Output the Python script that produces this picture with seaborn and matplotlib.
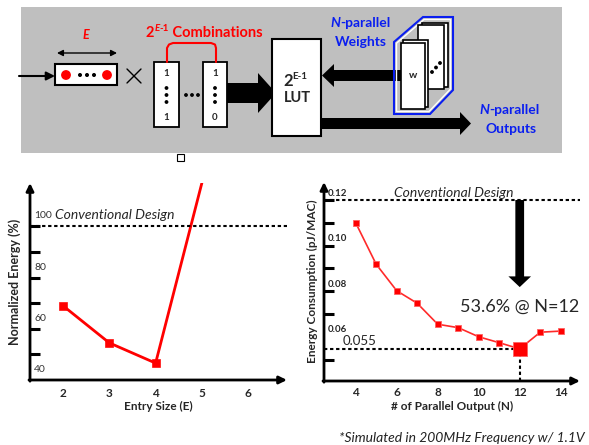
import matplotlib
matplotlib.use("Agg")
import matplotlib.pyplot as plt
from matplotlib.patches import Rectangle, Polygon, Circle
import seaborn as sns

sns.set_style("white")
plt.rcParams['font.family'] = ['Lato', 'DejaVu Sans']

# ---- data ----
entry_size = [2, 3, 4, 5]
norm_energy = [69.0, 54.5, 46.6, 117.0]
entry_ticks = [2, 3, 4, 5, 6]
norm_ticks = [50, 60, 70, 80, 90, 100]
norm_labels = [100, 80, 60, 40]
conv_norm = 100

parallel_n = [4, 5, 6, 7, 8, 9, 10, 11, 12, 13, 14]
energy_pj = [0.110, 0.0918, 0.0802, 0.0747, 0.0655, 0.0640, 0.0600, 0.0574, 0.0547, 0.0620, 0.0625]
n_ticks = [4, 6, 8, 10, 12, 14]
pj_ticks = [0.05, 0.07, 0.08, 0.09, 0.10, 0.11, 0.12]
pj_labels = ['0.12', '0.10', '0.08', '0.06']
pj_label_vals = [0.12, 0.10, 0.08, 0.06]
conv_pj = 0.12
best_n = 12
best_pj = energy_pj[parallel_n.index(best_n)]
best_label = '0.055'
saving_text = '53.6% @ N=12'

RED = '#ff0000'
BLUE = '#0a1ef0'
W, H = 589, 445

fig = plt.figure(figsize=(W / 100, H / 100), dpi=100)


def px_axes(x0, y0, x1, y1):
    return fig.add_axes([x0 / W, 1 - y1 / H, (x1 - x0) / W, (y1 - y0) / H])


# ---- overlay for the block diagram (pixel coords, y down) ----
ov = fig.add_axes([0, 0, 1, 1])
ov.set_xlim(0, W)
ov.set_ylim(H, 0)
ov.axis('off')


def chain(prev, s, dy=0, **kw):
    return ov.annotate(s, xy=(1, 0), xycoords=prev, xytext=(0, dy),
                       textcoords='offset points', ha='left', va='bottom', **kw)


ov.add_patch(Rectangle((21, 7), 541, 146, fc='#bfbfbf', ec='none'))

# input vector
ov.annotate('', xy=(55, 76), xytext=(19, 76),
            arrowprops=dict(arrowstyle='-|>,head_length=0.5,head_width=0.25', lw=1.5, color='k',
                            shrinkA=0, shrinkB=0))
ov.add_patch(Rectangle((55, 64), 62, 21, fc='white', ec='black', lw=1.5))
for cx in (66, 107):
    ov.add_patch(Circle((cx, 75), 4.2, color=RED))
for cx in (80, 87, 94):
    ov.add_patch(Circle((cx, 75), 1.3, color='black'))
ov.annotate('', xy=(117, 53), xytext=(57, 53),
            arrowprops=dict(arrowstyle='<|-|>,head_length=0.35,head_width=0.18', lw=1, color='k',
                            shrinkA=0, shrinkB=0))
ov.text(86, 35, 'E', color=RED, fontsize=9, fontweight='bold', style='italic', ha='center', va='center')

# multiply sign
ov.plot([127, 141], [69, 83], color='k', lw=1)
ov.plot([127, 141], [83, 69], color='k', lw=1)

# combination columns
for x0, w, bot in ((154, 25, '1'), (203, 24, '0')):
    ov.add_patch(Rectangle((x0, 62), w, 65, fc='white', ec='black', lw=1.3))
    cx = x0 + w / 2
    ov.text(cx, 73, '1', fontsize=7, fontweight='bold', ha='center', va='center')
    ov.text(cx, 117, bot, fontsize=7, fontweight='bold', ha='center', va='center')
    for cy in (88, 95, 102):
        ov.add_patch(Circle((cx, cy), 1.2, color='black'))
for cx in (186, 192, 198):
    ov.add_patch(Circle((cx, 95), 1.2, color='black'))
ov.plot([167, 167, 169, 173, 211, 215, 216, 216], [62, 48, 44.5, 43, 43, 44.5, 48, 62], color=RED, lw=1.5)

t = ov.text(146, 37, '2', color=RED, fontsize=10.5, fontweight='bold', ha='left', va='baseline')
s1 = chain(t, 'E', dy=5, color=RED, fontsize=7, fontweight='bold', style='italic')
s2 = chain(s1, '-1', color=RED, fontsize=7, fontweight='bold')
ov.annotate(' Combinations', xy=(1, 0), xycoords=(s2, t), ha='left', va='bottom',
            color=RED, fontsize=10.5, fontweight='bold')

# arrow into LUT
ov.add_patch(Polygon([(227, 83), (258, 83), (258, 73), (276, 93), (258, 113), (258, 103), (227, 103)],
                     closed=True, fc='black', ec='none'))

# LUT box
ov.add_patch(Rectangle((272, 39), 49, 97, fc='white', ec='black', lw=1.5))
t = ov.text(283, 86, '2', fontsize=12, fontweight='bold', ha='left', va='baseline')
s1 = chain(t, 'E-1', dy=6, fontsize=7, fontweight='bold')
ov.text(297, 98, 'LUT', fontsize=10.5, fontweight='bold', ha='center', va='center')

# weights arrow into LUT
ov.add_patch(Polygon([(322, 75.5), (334, 64), (334, 70), (402, 70), (402, 81), (334, 81), (334, 87)],
                     closed=True, fc='black', ec='none'))
# output arrow
ov.add_patch(Polygon([(321, 118), (460, 118), (460, 112), (471, 123.5), (460, 135), (460, 129), (321, 129)],
                     closed=True, fc='black', ec='none'))

# weight stack
ov.add_patch(Polygon([(394, 42), (423, 17), (453, 17), (453, 90), (430, 114), (394, 114)],
                     closed=True, fc='none', ec=BLUE, lw=1.5))
ov.add_patch(Polygon([(396.5, 43.2), (424, 19.5), (450.5, 19.5), (450.5, 89), (429, 111.5), (396.5, 111.5)],
                     closed=True, fc='none', ec='white', lw=1))
ov.add_patch(Rectangle((421.7, 22.7), 26.6, 64.6, fc='white', ec='black', lw=1.2))
ov.add_patch(Rectangle((418.3, 25), 26, 64.3, fc='white', ec='black', lw=1.2))
for cx, cy in ((432, 72), (436, 67.5), (440, 63)):
    ov.add_patch(Circle((cx, cy), 1.2, color='black'))
ov.add_patch(Rectangle((403.3, 40), 25, 67.3, fc='white', ec='black', lw=1.2))
ov.add_patch(Rectangle((401, 43.3), 24, 66, fc='white', ec='black', lw=1.2))
ov.text(413, 76, 'w', fontsize=7.5, fontweight='bold', ha='center', va='center')

t = ov.text(330, 27, 'N', color=BLUE, fontsize=10, fontweight='bold', style='italic', ha='left', va='baseline')
chain(t, '-parallel', color=BLUE, fontsize=10, fontweight='bold')
ov.text(361, 42, 'Weights', color=BLUE, fontsize=10, fontweight='bold', ha='center', va='center')
t = ov.text(479, 114, 'N', color=BLUE, fontsize=10, fontweight='bold', style='italic', ha='left', va='baseline')
chain(t, '-parallel', color=BLUE, fontsize=10, fontweight='bold')
ov.text(511, 129, 'Outputs', color=BLUE, fontsize=10, fontweight='bold', ha='center', va='center')

ov.add_patch(Rectangle((177, 154), 7, 7, fc='white', ec='black', lw=0.8))

ov.text(585, 438, '*Simulated in 200MHz Frequency w/ 1.1V', ha='right', va='center',
        style='italic', fontsize=10, color='#222222')


def style_chart(ax):
    for s in ax.spines.values():
        s.set_visible(False)
    ax.set_facecolor('none')
    arrow = dict(arrowstyle='-|>,head_length=0.45,head_width=0.22', lw=2, color='black',
                 shrinkA=0, shrinkB=0)
    ax.annotate('', xy=(0, 1), xytext=(0, -0.006), xycoords='axes fraction',
                arrowprops=arrow, annotation_clip=False)
    ax.annotate('', xy=(1, 0), xytext=(-0.004, 0), xycoords='axes fraction',
                arrowprops=arrow, annotation_clip=False)
    ax.tick_params(axis='y', left=True, direction='in', length=7.2, width=2.2,
                   color='black', labelleft=False)
    ax.tick_params(axis='x', bottom=False, length=0)


dash = (1.6, 1.3)

# ---- left chart ----
axL = px_axes(30, 183, 287, 380)
sns.lineplot(x=entry_size, y=norm_energy, ax=axL, color=RED, lw=2, sort=False)
sns.scatterplot(x=entry_size[:3], y=norm_energy[:3], ax=axL, marker='s', s=32,
                color=RED, edgecolor=RED, zorder=3)
axL.set_xlim(1.287, 6.838)
axL.set_ylim(40, 116.95)
style_chart(axL)
axL.axhline(conv_norm, color='black', lw=1.5, dashes=dash)
axL.set_yticks(norm_ticks)
axL.set_xticks(entry_ticks)
axL.set_xticklabels(entry_ticks, fontweight='bold', fontsize=8.5)
axL.tick_params(axis='x', pad=5.5)
for v in norm_labels:
    axL.annotate(str(v), xy=(0, v), xycoords=('axes fraction', 'data'), xytext=(3, 7.5),
                 textcoords='offset points', ha='left', va='center', fontsize=7.5, color='#333333')
axL.text(1.83, 104.6, 'Conventional Design', style='italic', fontsize=10, ha='left', va='center')
axL.set_xlabel('Entry Size (E)', fontweight='bold', fontsize=8.5, labelpad=1.5)
axL.set_ylabel('Normalized Energy (%)', fontweight='bold', fontsize=9, labelpad=6.5)

# ---- right chart ----
axR = px_axes(324, 182, 580, 381)
sns.lineplot(x=parallel_n, y=energy_pj, ax=axR, color='#ff2a2a', lw=1.2, marker='s',
             markersize=5, markerfacecolor=RED, markeredgecolor='#ff6060', markeredgewidth=0.6)
sns.scatterplot(x=[best_n], y=[best_pj], ax=axR, marker='s', s=100, color=RED,
                edgecolor='#ff6060', linewidth=0.6, zorder=4)
axR.set_xlim(2.454, 14.94)
axR.set_ylim(0.0406, 0.1279)
style_chart(axR)
axR.axhline(conv_pj, color='black', lw=1.5, dashes=dash)
axR.plot([2.454, best_n], [best_pj, best_pj], color='black', lw=1.5, dashes=dash)
axR.plot([best_n, best_n], [0.0406, best_pj], color='black', lw=1.5, dashes=dash)
axR.set_yticks(pj_ticks)
axR.set_xticks(n_ticks)
axR.set_xticklabels(n_ticks, fontweight='bold', fontsize=8.5)
axR.tick_params(axis='x', pad=4.5)
for lab, v in zip(pj_labels, pj_label_vals):
    axR.annotate(lab, xy=(0, v), xycoords=('axes fraction', 'data'), xytext=(3, 5),
                 textcoords='offset points', ha='left', va='center', fontsize=7, fontweight='bold')
axR.annotate(best_label, xy=(0, best_pj), xycoords=('axes fraction', 'data'), xytext=(13.5, 5.3),
             textcoords='offset points', ha='left', va='center', fontsize=9.5)
axR.text(8.76, 0.1232, 'Conventional Design', style='italic', fontsize=10, ha='center', va='center')
axR.annotate('', xy=(best_n, 0.0818), xytext=(best_n, conv_pj),
             arrowprops=dict(arrowstyle='simple,head_length=0.77,head_width=1.63,tail_width=0.63',
                             mutation_scale=10, fc='black', ec='none', shrinkA=0, shrinkB=0))
axR.text(best_n, 0.0732, saving_text, fontsize=13, ha='center', va='center')
axR.set_xlabel('# of Parallel Output (N)', fontweight='bold', fontsize=8.5, labelpad=2)
axR.set_ylabel('Energy Consumption (pJ/MAC)', fontweight='bold', fontsize=8.5, labelpad=4)

fig.savefig('out.png', dpi=100)
